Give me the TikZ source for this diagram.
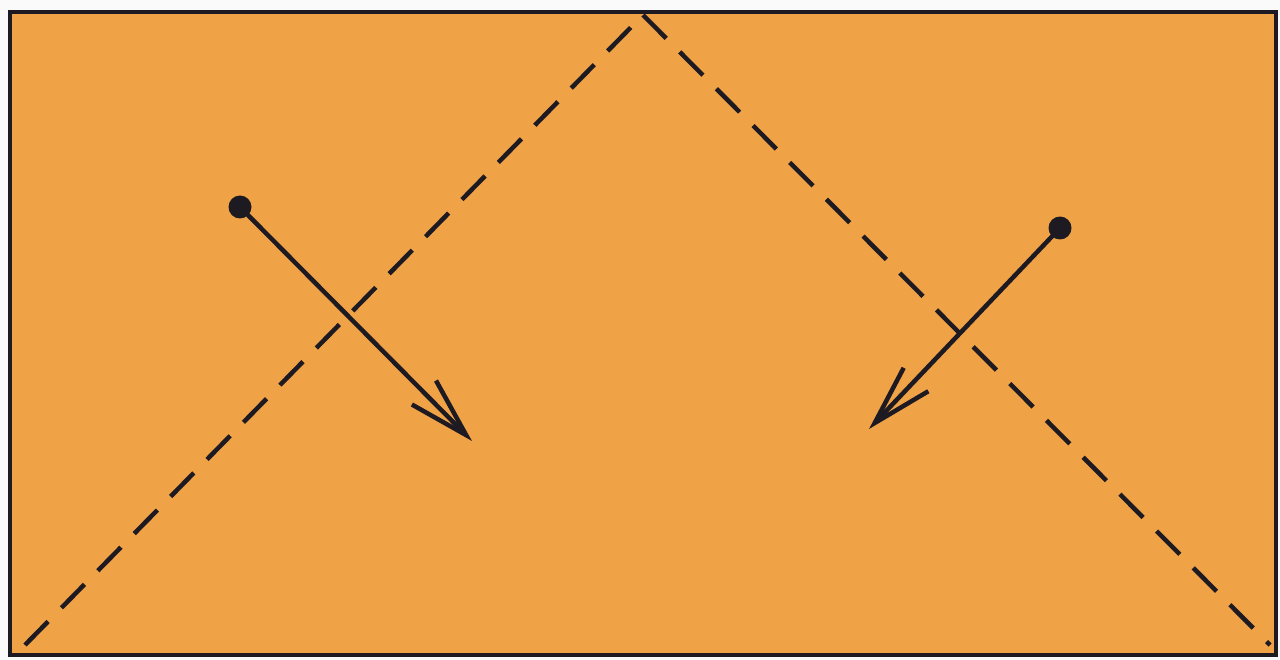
\documentclass[tikz,border=0pt]{standalone}
\usetikzlibrary{arrows.meta}
\definecolor{paper}{HTML}{F0A346}
\definecolor{ink}{HTML}{1E1A22}
\tikzset{
  frame/.style={draw=ink, line width=4.5pt, fill=paper},
  fold/.style={draw=ink, line width=4.5pt, dash pattern=on 33pt off 19pt},
  move/.style={draw=ink, line width=4.5pt, -{Straight Barb[length=60pt, width=34pt, line width=4.5pt]}},
  dot/.style={circle, fill=ink, inner sep=0pt, minimum size=23pt}
}
\begin{document}
\begin{tikzpicture}[x=1pt, y=-1pt]
\useasboundingbox (0,0) rectangle (1280,660);
\fill[white!96!gray] (0,0) rectangle (1280,660);
\draw[frame] (10,12) rectangle (1276,655);
\coordinate (bl) at (25,645);
\coordinate (apex) at (643,15);
\coordinate (br) at (1270,645);
\draw[fold] (bl) -- (apex);
\draw[fold] (apex) -- (br);
\node[dot] (d1) at (240,207) {};
\node[dot] (d2) at (1060,228) {};
\coordinate (t1) at (472,441);
\coordinate (t2) at (869,429);
\draw[move] (d1.center) -- (t1);
\draw[move] (d2.center) -- (t2);
\end{tikzpicture}
\end{document}
